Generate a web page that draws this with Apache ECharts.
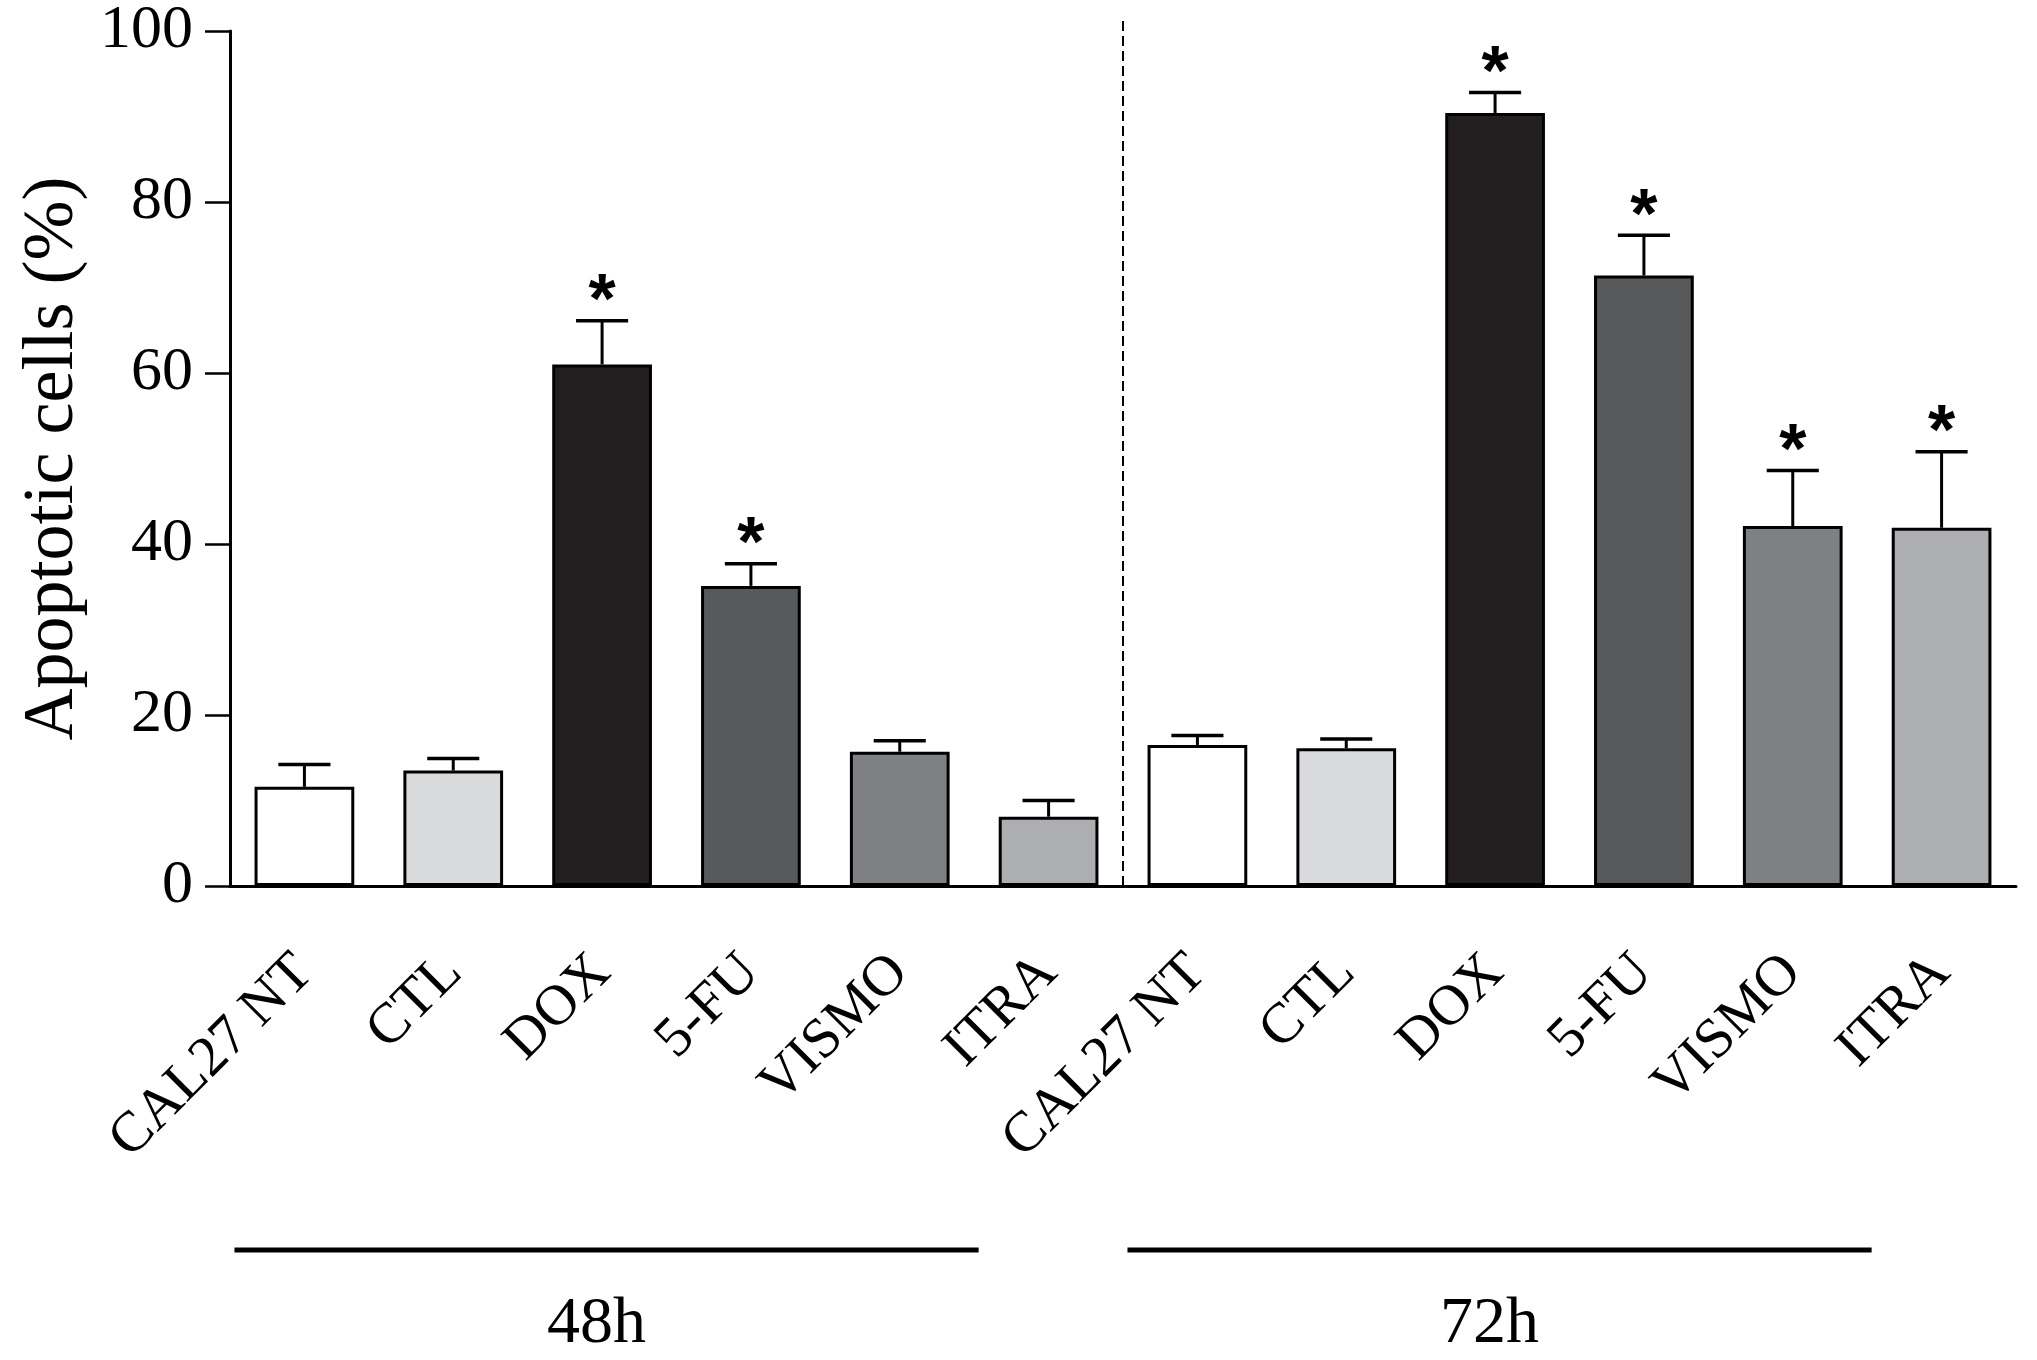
<!DOCTYPE html>
<html>
<head>
<meta charset="utf-8">
<script src="https://cdn.jsdelivr.net/npm/echarts@6/dist/echarts.min.js"></script>
<style>
  html, body { margin: 0; padding: 0; background: #fff; }
  #main { width: 2037px; height: 1360px; }
</style>
</head>
<body>
<div id="main"></div>
<script>
// treatments, 48h then 72h
var categories = ['CAL27 NT', 'CTL', 'DOX', '5-FU', 'VISMO', 'ITRA',
                  'CAL27 NT', 'CTL', 'DOX', '5-FU', 'VISMO', 'ITRA'];
var meanValues = [11.6, 13.5, 61.0, 35.1, 15.7, 8.1,
                  16.5, 16.1, 90.4, 71.4, 42.1, 41.9];
var semValues  = [2.6, 1.4, 5.1, 2.6, 1.3, 1.9,
                  1.1, 1.1, 2.4, 4.7, 6.5, 8.9];
var significant = [0, 0, 1, 1, 0, 0,
                   0, 0, 1, 1, 1, 1];
var groupNames = ['48h', '72h'];
var groupFirst = [0, 6];
var groupLast  = [5, 11];

var serif = 'Liberation Serif';
var barColors = ['#ffffff', '#d9dadc', '#231f20', '#58595b', '#7e8083', '#adaeb2'];

var myChart = echarts.init(document.getElementById('main'));

var barData = meanValues.map(function (v, i) {
  return { value: v, itemStyle: { color: barColors[i % 6] } };
});
var errData = meanValues.map(function (v, i) {
  return [i, v, semValues[i]];
});
var groupData = groupFirst.map(function (f, i) {
  return [f, groupLast[i]];
});

var option = {
  animation: false,
  grid: { left: 230, right: 21, top: 30, bottom: 474, containLabel: false },
  xAxis: {
    type: 'category',
    data: categories,
    axisLine: { lineStyle: { color: '#000', width: 3 } },
    axisTick: { alignWithLabel: true, length: 25, lineStyle: { color: '#000', width: 2.5 } },
    axisLabel: {
      interval: 0,
      rotate: 45,
      margin: 78,
      color: '#000',
      fontFamily: serif,
      fontSize: 57
    }
  },
  yAxis: {
    type: 'value',
    min: 0,
    max: 100,
    interval: 20,
    name: 'Apoptotic cells (%)',
    nameLocation: 'middle',
    nameGap: 138,
    nameTextStyle: { color: '#000', fontFamily: serif, fontSize: 72 },
    axisLine: { show: true, lineStyle: { color: '#000', width: 3 } },
    axisTick: { show: true, length: 25, lineStyle: { color: '#000', width: 2.5 } },
    axisLabel: { margin: 37, color: '#000', fontFamily: serif, fontSize: 62 },
    splitLine: { show: false }
  },
  series: [{
    type: 'bar',
    barWidth: '67%',
    data: barData,
    itemStyle: { borderColor: '#000', borderWidth: 3 },
    z: 2
  }, {
    // SEM (upper only) + significance stars
    type: 'custom',
    data: errData,
    z: 3,
    renderItem: function (params, api) {
      var i = api.value(0), m = api.value(1), e = api.value(2);
      var base = api.coord([i, m]);
      var tip = api.coord([i, m + e]);
      var half = api.size([1, 0])[0] * 0.175;
      var kids = [{
        type: 'line',
        shape: { x1: base[0], y1: base[1], x2: tip[0], y2: tip[1] },
        style: { stroke: '#000', lineWidth: 3 }
      }, {
        type: 'line',
        shape: { x1: tip[0] - half, y1: tip[1], x2: tip[0] + half, y2: tip[1] },
        style: { stroke: '#000', lineWidth: 3.5 }
      }];
      if (significant[params.dataIndex]) {
        kids.push({
          type: 'text',
          x: tip[0],
          y: tip[1] - 17,
          style: {
            text: '*', fill: '#000',
            fontFamily: 'Liberation Sans', fontWeight: 'bold', fontSize: 70,
            align: 'center', verticalAlign: 'middle'
          }
        });
      }
      return { type: 'group', children: kids };
    }
  }, {
    // dashed divider between 48h and 72h
    type: 'custom',
    data: [[5, 6]],
    clip: false,
    z: 1,
    renderItem: function (params, api) {
      var a = api.coord([api.value(0), 0]);
      var b = api.coord([api.value(1), 0]);
      var top = api.coord([api.value(0), 101.5]);
      var x = (a[0] + b[0]) / 2;
      return {
        type: 'line',
        shape: { x1: x, y1: a[1], x2: x, y2: top[1] },
        style: { stroke: '#000', lineWidth: 2, lineDash: [10, 5] }
      };
    }
  }, {
    // time-point brackets under the labels
    type: 'custom',
    data: groupData,
    clip: false,
    renderItem: function (params, api) {
      var a = api.coord([api.value(0), 0]);
      var b = api.coord([api.value(1), 0]);
      var off = -0.47 * api.size([1, 0])[0];
      var y = a[1] + 364;
      var x1 = a[0] + off, x2 = b[0] + off;
      return {
        type: 'group',
        children: [{
          type: 'line',
          shape: { x1: x1, y1: y, x2: x2, y2: y },
          style: { stroke: '#000', lineWidth: 5 }
        }, {
          type: 'text',
          x: (x1 + x2) / 2 - 10,
          y: y + 75,
          style: {
            text: groupNames[params.dataIndex], fill: '#000',
            fontFamily: serif, fontSize: 66,
            align: 'center', verticalAlign: 'middle'
          }
        }]
      };
    }
  }]
};

myChart.setOption(option);
</script>
</body>
</html>
